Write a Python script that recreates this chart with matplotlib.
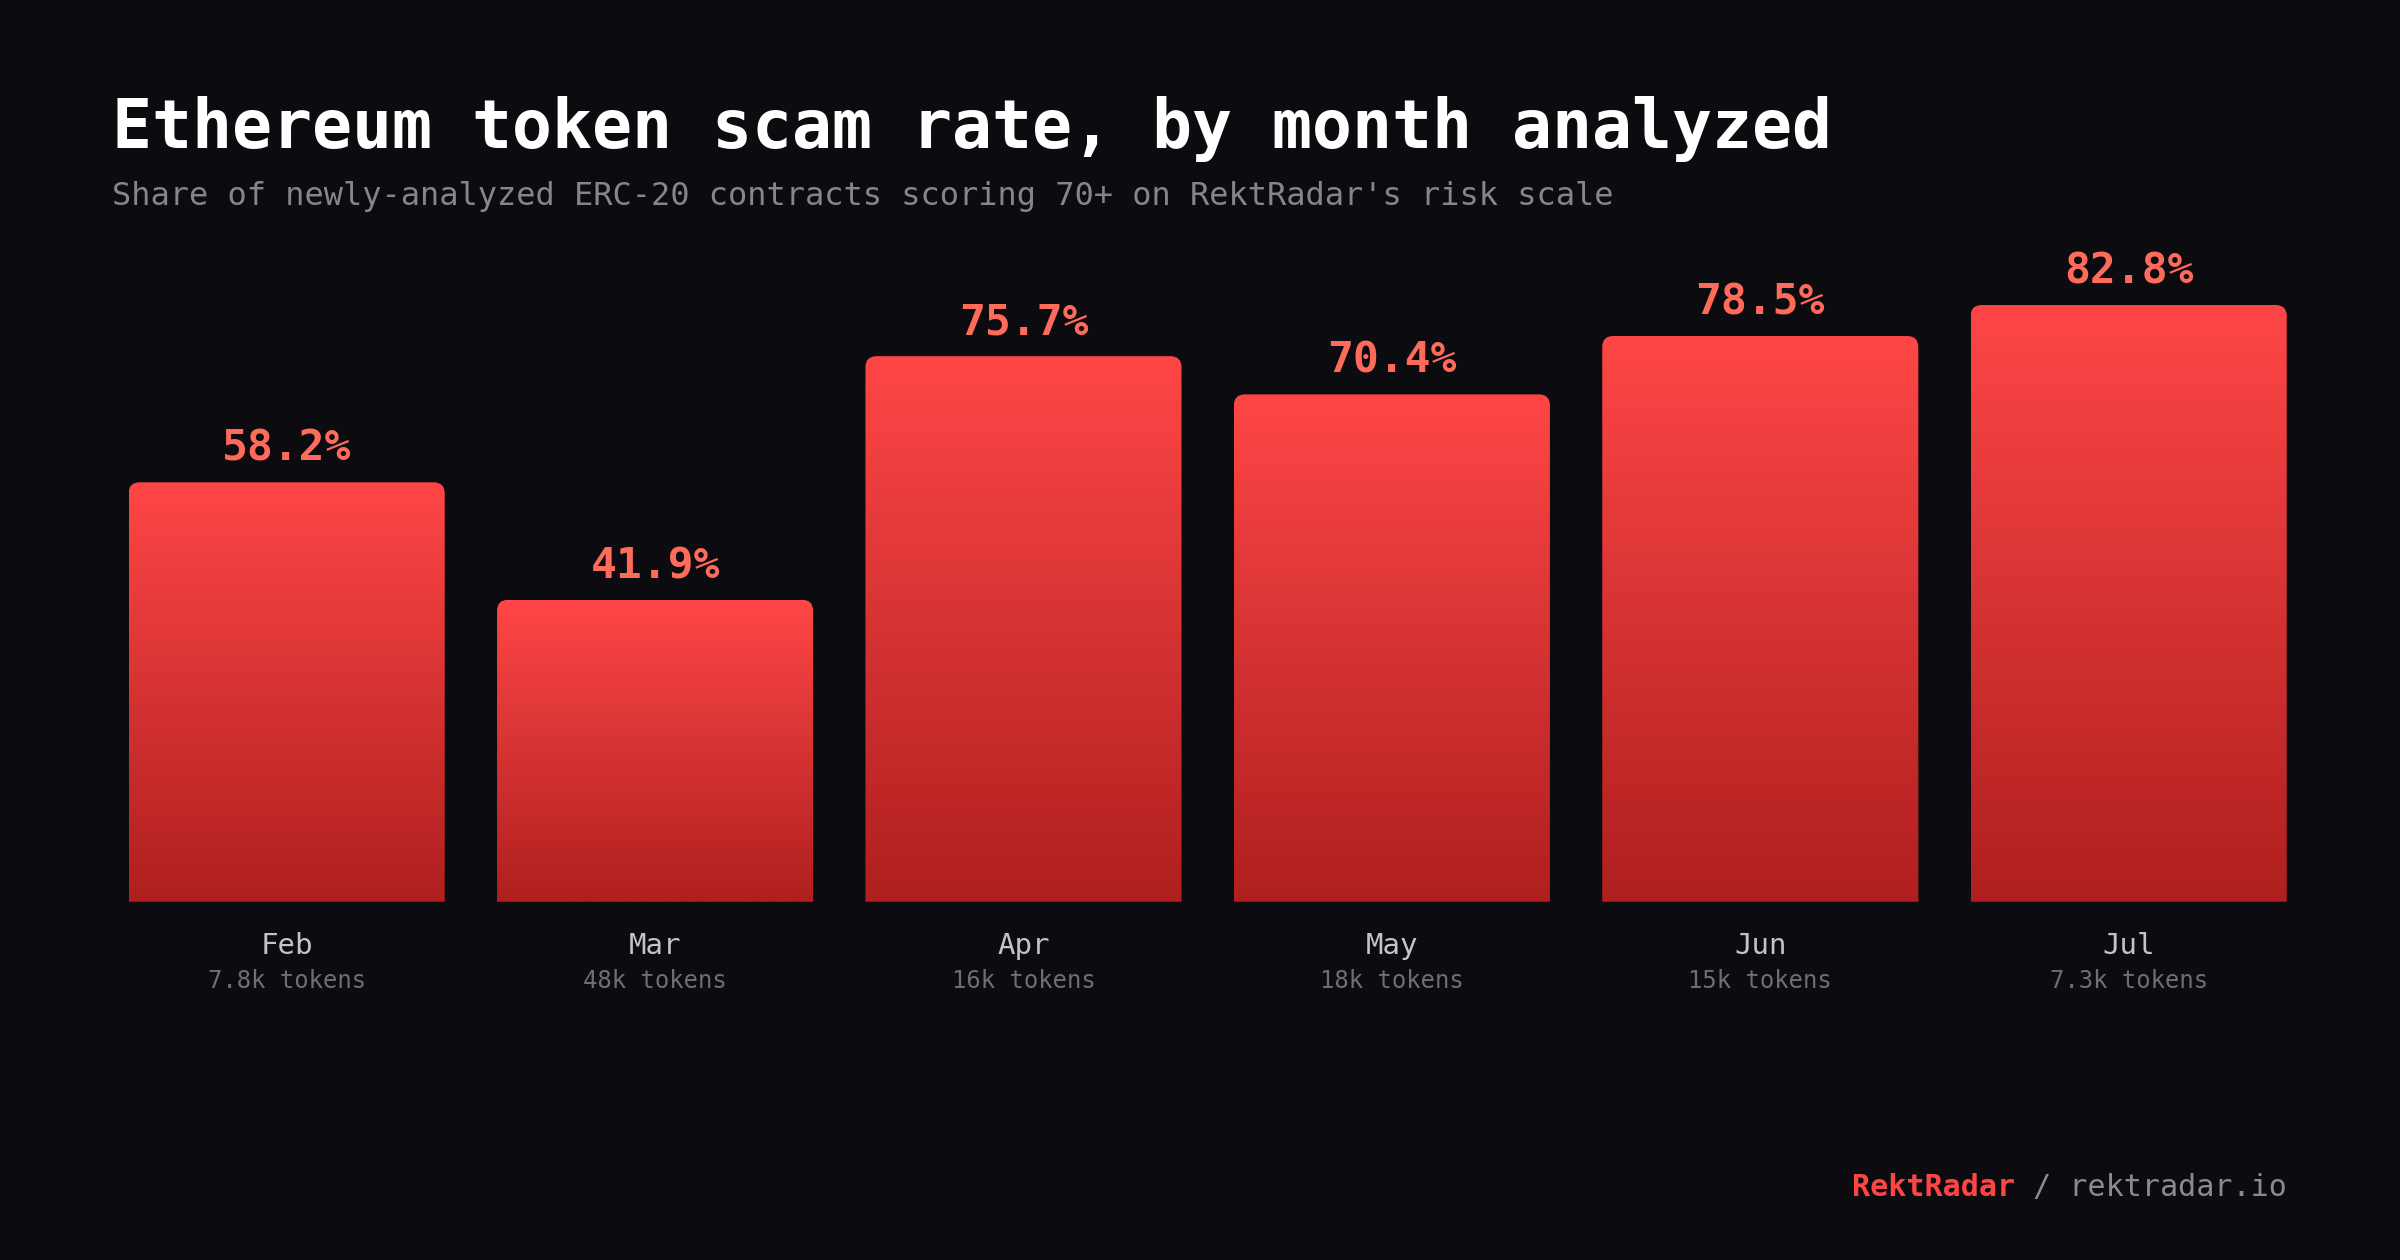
import numpy as np
import matplotlib.pyplot as plt
from matplotlib.path import Path
from matplotlib.patches import PathPatch
from matplotlib.colors import LinearSegmentedColormap

months = ["Feb", "Mar", "Apr", "May", "Jun", "Jul"]
scam_rate = [58.2, 41.9, 75.7, 70.4, 78.5, 82.8]
token_counts = ["7.8k", "48k", "16k", "18k", "15k", "7.3k"]

BG = "#0b0b10"
plt.rcParams['font.family'] = ['DejaVu Sans Mono']

W, H, DPI = 12, 6.3, 200
fig = plt.figure(figsize=(W, H), dpi=DPI, facecolor=BG)
ax_rect = [0.0427, 0.2843, 0.921, 0.572]
ax = fig.add_axes(ax_rect)
ax.set_facecolor(BG)

x = np.arange(len(months))
bars = ax.bar(x, scam_rate, width=0.858, color='none', edgecolor='none')

# gradient fill with rounded top corners
cmap = LinearSegmentedColormap.from_list('rekt', ['#b01f1f', '#d63333', '#ff4646'])
grad = np.linspace(0, 1, 256).reshape(-1, 1)
px_x = ax_rect[2] * W * DPI / 6.0
px_y = ax_rect[3] * H * DPI / 100.0
rx, ry = 11 / px_x, 11 / px_y

for b in bars:
    x0, w, h = b.get_x(), b.get_width(), b.get_height()
    x1 = x0 + w
    verts = [(x0, 0), (x0, h - ry), (x0, h), (x0 + rx, h), (x1 - rx, h),
             (x1, h), (x1, h - ry), (x1, 0), (x0, 0)]
    codes = [Path.MOVETO, Path.LINETO, Path.CURVE3, Path.CURVE3, Path.LINETO,
             Path.CURVE3, Path.CURVE3, Path.LINETO, Path.CLOSEPOLY]
    clip = PathPatch(Path(verts, codes), facecolor='none', edgecolor='none')
    ax.add_patch(clip)
    im = ax.imshow(grad, extent=(x0, x1, 0, h), origin='lower', cmap=cmap,
                   aspect='auto', zorder=2, interpolation='bilinear')
    im.set_clip_path(clip)

for i, (v, m, t) in enumerate(zip(scam_rate, months, token_counts)):
    ax.annotate(f"{v:.1f}%", xy=(i, v), xytext=(0, 7.8), textcoords='offset points',
                ha='center', va='baseline', fontsize=15.5, fontweight='bold',
                color='#ff6b5b')
    ax.annotate(m, xy=(i, 0), xytext=(0, -18.7), textcoords='offset points',
                ha='center', va='baseline', fontsize=10.5, color='#c4c4c8')
    ax.annotate(f"{t} tokens", xy=(i, 0), xytext=(0, -31), textcoords='offset points',
                ha='center', va='baseline', fontsize=8.6, color='#6e6e74')

ax.set_xlim(-0.5, 5.5)
ax.set_ylim(0, 100)
ax.axis('off')

fig.text(0.0466, 0.8822, "Ethereum token scam rate, by month analyzed",
         fontsize=23.95, fontweight='bold', color='white', va='baseline')
fig.text(0.0466, 0.8375,
         "Share of newly-analyzed ERC-20 contracts scoring 70+ on RektRadar's risk scale",
         fontsize=11.5, color='#85858b', va='baseline')

site = fig.text(0.9528, 0.0511, " / rektradar.io", fontsize=10.8,
                color='#8a8a90', ha='right', va='baseline')
ax.annotate("RektRadar", xy=(0, 0), xycoords=site, ha='right', va='bottom',
            fontsize=10.8, fontweight='bold', color='#ff4444')

fig.savefig("out.png", dpi=DPI, facecolor=BG)
